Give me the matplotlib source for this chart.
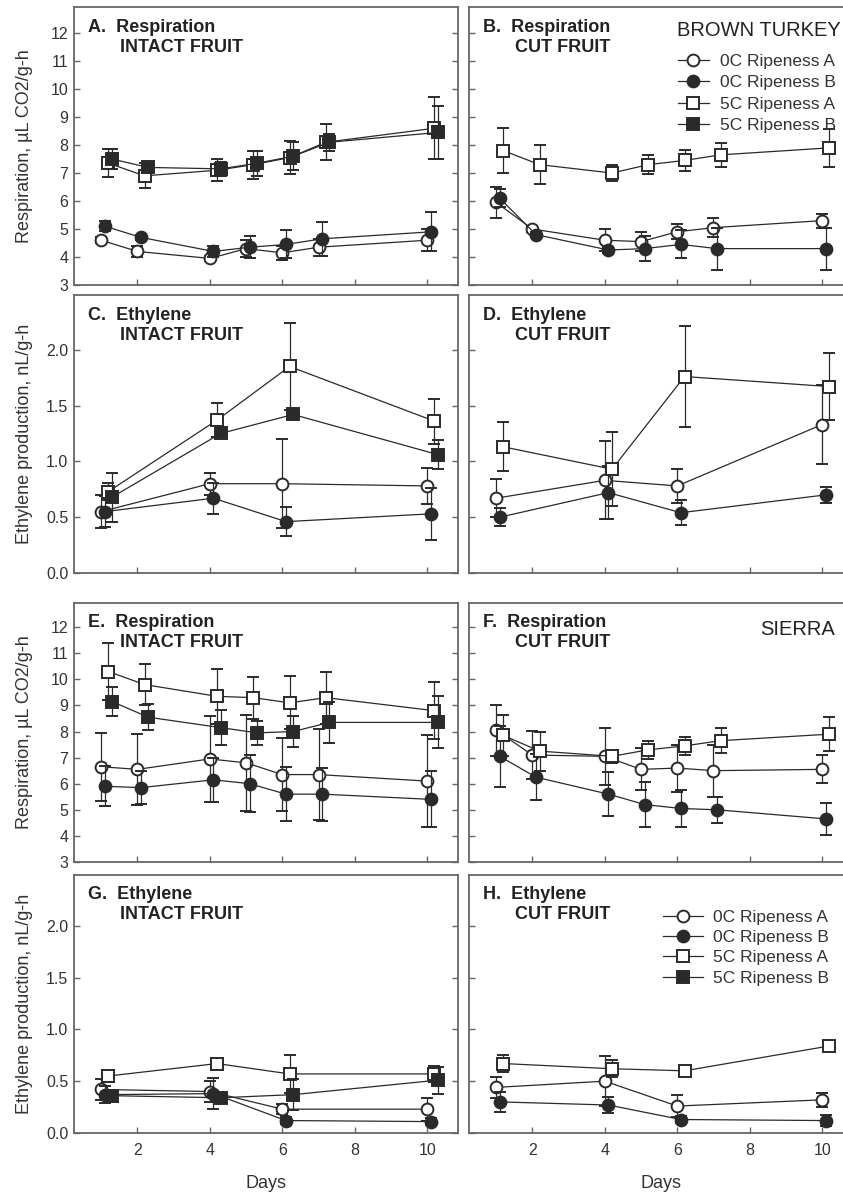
import matplotlib
matplotlib.use('Agg')
from matplotlib import pyplot as plt
from matplotlib.lines import Line2D

plt.rcParams['font.family'] = ['Liberation Sans', 'DejaVu Sans']

# sampling days
resp_days = [1, 2, 4, 5, 6, 7, 10]
eth_days = [1, 4, 6, 10]

series_labels = ['0C Ripeness A', '0C Ripeness B', '5C Ripeness A', '5C Ripeness B']

# A. Brown Turkey respiration, intact fruit
a_means = [[4.6, 4.2, 3.95, 4.3, 4.15, 4.35, 4.6],
           [5.1, 4.7, 4.2, 4.35, 4.45, 4.65, 4.9],
           [7.35, 6.9, 7.1, 7.3, 7.55, 8.1, 8.6],
           [7.5, 7.2, 7.15, 7.35, 7.6, 8.1, 8.45]]
a_errs = [[0.1, 0.2, 0.1, 0.3, 0.25, 0.3, 0.4],
          [0.17, 0.1, 0.2, 0.4, 0.5, 0.6, 0.7],
          [0.5, 0.45, 0.4, 0.5, 0.6, 0.65, 1.1],
          [0.35, 0.1, 0.25, 0.45, 0.5, 0.3, 0.95]]

# B. Brown Turkey respiration, cut fruit
b_means = [[5.95, 5.0, 4.6, 4.55, 4.9, 5.05, 5.3],
           [6.1, 4.8, 4.25, 4.3, 4.45, 4.3, 4.3],
           [7.8, 7.3, 7.0, 7.3, 7.45, 7.65, 7.9],
           None]
b_errs = [[0.55, 0.1, 0.4, 0.35, 0.27, 0.35, 0.25],
          [0.33, 0.1, 0.1, 0.45, 0.5, 0.75, 0.75],
          [0.8, 0.7, 0.3, 0.35, 0.37, 0.42, 0.68],
          None]

# C. Brown Turkey ethylene, intact fruit
c_means = [[0.55, 0.8, 0.8, 0.78],
           [0.55, 0.67, 0.46, 0.53],
           [0.73, 1.37, 1.85, 1.36],
           [0.68, 1.25, 1.42, 1.06]]
c_errs = [[0.15, 0.1, 0.4, 0.16],
          [0.14, 0.14, 0.13, 0.23],
          [0.08, 0.15, 0.39, 0.2],
          [0.22, 0.03, 0.04, 0.13]]

# D. Brown Turkey ethylene, cut fruit
d_means = [[0.67, 0.83, 0.78, 1.33],
           [0.5, 0.72, 0.54, 0.70],
           [1.13, 0.93, 1.76, 1.67],
           None]
d_errs = [[0.17, 0.35, 0.15, 0.35],
          [0.08, 0.24, 0.11, 0.07],
          [0.22, 0.33, 0.45, 0.3],
          None]

# E. Sierra respiration, intact fruit
e_means = [[6.65, 6.55, 6.95, 6.8, 6.35, 6.35, 6.1],
           [5.9, 5.85, 6.15, 6.0, 5.6, 5.6, 5.4],
           [10.3, 9.8, 9.35, 9.3, 9.1, 9.3, 8.8],
           [9.15, 8.55, 8.15, 7.95, 8.0, 8.35, 8.35]]
e_errs = [[1.3, 1.37, 1.65, 1.85, 1.4, 1.75, 1.75],
          [0.77, 0.63, 0.84, 1.1, 1.04, 1.02, 1.07],
          [1.09, 0.78, 1.05, 0.8, 1.02, 1.0, 1.09],
          [0.55, 0.5, 0.67, 0.45, 0.58, 0.8, 1.0]]

# F. Sierra respiration, cut fruit
f_means = [[8.05, 7.1, 7.05, 6.55, 6.6, 6.5, 6.55],
           [7.05, 6.25, 5.6, 5.2, 5.05, 5.0, 4.65],
           [7.85, 7.25, 7.05, 7.3, 7.45, 7.65, 7.9],
           None]
f_errs = [[0.98, 0.92, 1.1, 0.8, 0.9, 1.0, 0.54],
          [1.18, 0.88, 0.83, 0.87, 0.7, 0.5, 0.6],
          [0.8, 0.75, 0.25, 0.35, 0.36, 0.48, 0.64],
          None]

# G. Sierra ethylene, intact fruit
g_means = [[0.42, 0.40, 0.23, 0.23],
           [0.37, 0.38, 0.12, 0.11],
           [0.55, 0.67, 0.57, 0.57],
           [0.36, 0.34, 0.37, 0.51]]
g_errs = [[0.1, 0.1, 0.05, 0.11],
          [0.08, 0.15, 0.03, 0.03],
          [0.02, 0.03, 0.18, 0.08],
          [0.05, 0.03, 0.15, 0.13]]

# H. Sierra ethylene, cut fruit
h_means = [[0.44, 0.50, 0.26, 0.32],
           [0.30, 0.27, 0.13, 0.12],
           [0.67, 0.62, 0.60, 0.84],
           None]
h_errs = [[0.1, 0.24, 0.11, 0.07],
          [0.1, 0.08, 0.03, 0.05],
          [0.08, 0.08, 0.03, 0.05],
          None]

resp_ticks = [3, 4, 5, 6, 7, 8, 9, 10, 11, 12]
eth_ticks = [0.0, 0.5, 1.0, 1.5, 2.0]
eth_ticklabels = ['0.0', '0.5', '1.0', '1.5', '2.0']
day_ticks = [2, 4, 6, 8, 10]

LINE = '#2a2a2a'
FRAME = '#666666'
MARKERS = [('o', 'white'), ('o', LINE), ('s', 'white'), ('s', LINE)]
OFFSETS = [0.0, 0.1, 0.2, 0.3]


def draw_panel(ax, days, means, errs):
    """plot the four treatment series with error bars"""
    for i in range(4):
        if means[i] is None:
            continue
        xs = [d + OFFSETS[i] for d in days]
        marker, face = MARKERS[i]
        ms = 8.5 if marker == 'o' else 8
        ax.errorbar(xs, means[i], yerr=errs[i], color=LINE, lw=0.9,
                    elinewidth=0.9, capsize=4.5, capthick=0.9,
                    marker=marker, ms=ms, mfc=face, mec=LINE, mew=1.4,
                    zorder=3 + i)


def style_panel(ax, kind, left_col, bottom_row):
    ax.set_xlim(0.25, 10.85)
    if kind == 'resp':
        ax.set_ylim(3, 12.93)
        ax.set_yticks(resp_ticks)
    else:
        ax.set_ylim(0, 2.49)
        ax.set_yticks(eth_ticks)
        ax.set_yticklabels(eth_ticklabels)
    ax.set_xticks(day_ticks)
    for sp in ax.spines.values():
        sp.set_color(FRAME)
        sp.set_linewidth(1.3)
    ax.tick_params(direction='in', length=4.5, width=1, color=FRAME,
                   labelcolor='#333333', labelsize=11.5, right=True,
                   labelleft=left_col, labelbottom=bottom_row, pad=4)
    ax.tick_params(axis='x', pad=7)


def panel_title(ax, line1, line2):
    ax.annotate(line1, xy=(0, 1), xycoords='axes fraction', xytext=(14, -20),
                textcoords='offset pixels', va='center', ha='left',
                fontsize=13, fontweight='bold', color='#222222')
    ax.annotate(line2, xy=(0, 1), xycoords='axes fraction', xytext=(46, -40),
                textcoords='offset pixels', va='center', ha='left',
                fontsize=13, fontweight='bold', color='#222222')


def add_legend(ax, x, y, hlen, spacing):
    handles = []
    for i in range(4):
        marker, face = MARKERS[i]
        handles.append(Line2D([], [], color=LINE, lw=0.9, marker=marker,
                              ms=8.5 if marker == 'o' else 8, mfc=face,
                              mec=LINE, mew=1.4))
    leg = ax.legend(handles, series_labels, loc='upper left',
                    bbox_to_anchor=(x, y), frameon=False, fontsize=12.5,
                    handlelength=hlen, handletextpad=0.6, labelspacing=spacing,
                    borderpad=0, borderaxespad=0)
    for t in leg.get_texts():
        t.set_color('#333333')


def main():
    fig = plt.figure(figsize=(8.43, 11.94), dpi=100)
    lefts = [0.0878, 0.5563]
    width = 0.4555
    rows = [(0.7613, 0.2328), (0.5201, 0.2328), (0.2781, 0.2169), (0.0511, 0.2161)]

    panels = [
        (a_means, a_errs, 'resp', 'A.  Respiration', 'INTACT FRUIT'),
        (b_means, b_errs, 'resp', 'B.  Respiration', 'CUT FRUIT'),
        (c_means, c_errs, 'eth', 'C.  Ethylene', 'INTACT FRUIT'),
        (d_means, d_errs, 'eth', 'D.  Ethylene', 'CUT FRUIT'),
        (e_means, e_errs, 'resp', 'E.  Respiration', 'INTACT FRUIT'),
        (f_means, f_errs, 'resp', 'F.  Respiration', 'CUT FRUIT'),
        (g_means, g_errs, 'eth', 'G.  Ethylene', 'INTACT FRUIT'),
        (h_means, h_errs, 'eth', 'H.  Ethylene', 'CUT FRUIT'),
    ]
    axes = []
    for k, (means, errs, kind, t1, t2) in enumerate(panels):
        r, c = divmod(k, 2)
        bottom, height = rows[r]
        ax = fig.add_axes([lefts[c], bottom, width, height])
        days = resp_days if kind == 'resp' else eth_days
        draw_panel(ax, days, means, errs)
        style_panel(ax, kind, c == 0, r == 3)
        panel_title(ax, t1, t2)
        axes.append(ax)

    axes[1].text(0.969, 0.917, 'BROWN TURKEY', transform=axes[1].transAxes,
                 ha='right', va='center', fontsize=14.5, color='#222222')
    axes[5].text(0.953, 0.896, 'SIERRA', transform=axes[5].transAxes,
                 ha='right', va='center', fontsize=14.5, color='#222222')
    add_legend(axes[1], 0.544, 0.831, 1.8, 0.35)
    add_legend(axes[7], 0.505, 0.866, 2.3, 0.3)

    # axis labels
    for r, text in enumerate(['Respiration, µL CO2/g-h', 'Ethylene production, nL/g-h',
                              'Respiration, µL CO2/g-h', 'Ethylene production, nL/g-h']):
        bottom, height = rows[r]
        fig.text(25 / 843, bottom + height / 2, text, rotation=90, ha='center',
                 va='center', fontsize=13, color='#333333')
    fig.text(266 / 843, 1 - 1183 / 1194, 'Days', ha='center', va='center',
             fontsize=13, color='#333333')
    fig.text(661 / 843, 1 - 1183 / 1194, 'Days', ha='center', va='center',
             fontsize=13, color='#333333')

    fig.savefig('out.png', dpi=100)


if __name__ == "__main__":
    main()
